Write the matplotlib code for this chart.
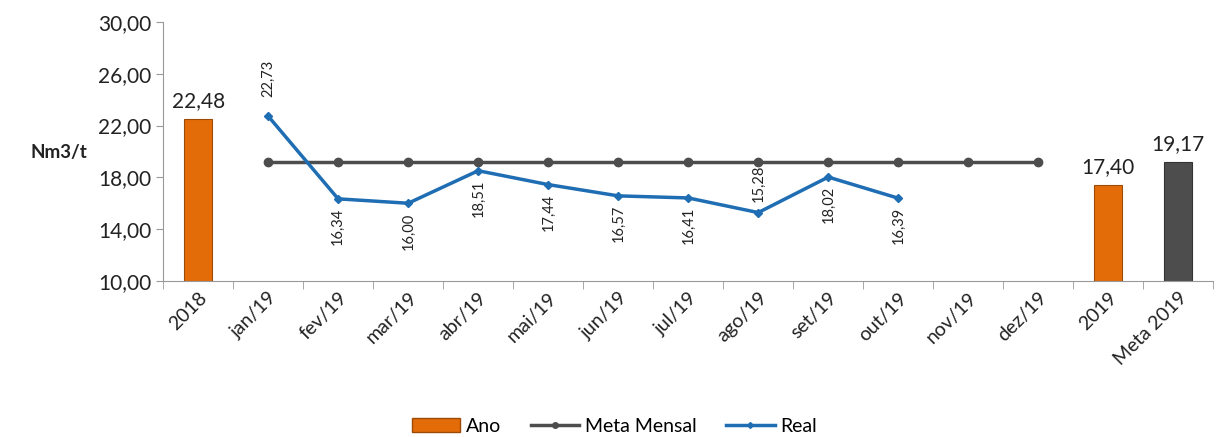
import matplotlib.pyplot as plt
import numpy as np
from matplotlib.patches import Patch
from matplotlib.lines import Line2D

categorias = ['2018', 'jan/19', 'fev/19', 'mar/19', 'abr/19', 'mai/19', 'jun/19',
              'jul/19', 'ago/19', 'set/19', 'out/19', 'nov/19', 'dez/19', '2019', 'Meta 2019']
ano = [22.48, None, None, None, None, None, None, None, None, None, None, None, None, 17.40, None]
meta_2019 = 19.17
meta_mensal = [None] + [19.17] * 12 + [None, None]
real = [None, 22.73, 16.34, 16.00, 18.51, 17.44, 16.57, 16.41, 15.28, 18.02, 16.39, None, None, None, None]

plt.rcParams['font.family'] = ['Lato', 'DejaVu Sans']

fig = plt.figure(figsize=(12.17, 4.37), dpi=100)
ax = fig.add_axes([0.134, 0.357, 0.863, 0.593])

x = np.arange(len(categorias))
laranja = '#e36c09'
cinza = '#4d4d4d'
azul = '#1f6db3'

# barras
for i, v in enumerate(ano):
    if v is not None:
        ax.bar(x[i], v - 10, bottom=10, width=0.4, color=laranja, edgecolor='#9c4a06', linewidth=0.8, zorder=2)
        ax.text(x[i], v + 0.6, f'{v:.2f}'.replace('.', ','), ha='center', va='bottom', fontsize=15, color='#222222')
ax.bar(x[-1], meta_2019 - 10, bottom=10, width=0.4, color=cinza, edgecolor='#333333', linewidth=0.8, zorder=2)
ax.text(x[-1], meta_2019 + 0.6, f'{meta_2019:.2f}'.replace('.', ','), ha='center', va='bottom', fontsize=15, color='#222222')

# linhas
mm = np.array([np.nan if v is None else v for v in meta_mensal])
rr = np.array([np.nan if v is None else v for v in real])
ax.plot(x, mm, color=cinza, linewidth=2.5, marker='o', markersize=6, zorder=3)
ax.plot(x, rr, color=azul, linewidth=2.5, marker='D', markersize=4, zorder=4)

acima = {1: 1.5, 8: 0.8}
for i, v in enumerate(real):
    if v is None:
        continue
    txt = f'{v:.2f}'.replace('.', ',')
    if i in acima:
        ax.text(x[i], v + acima[i], txt, rotation=90, ha='center', va='bottom', fontsize=10.5, color='#222222')
    else:
        ax.text(x[i], v - 0.7, txt, rotation=90, ha='center', va='top', fontsize=10.5, color='#222222')

ax.set_xlim(-0.5, len(categorias) - 0.5)
ax.set_ylim(10, 30)
ax.set_yticks([10, 14, 18, 22, 26, 30])
ax.set_yticklabels(['10,00', '14,00', '18,00', '22,00', '26,00', '30,00'], fontsize=15, color='#222222')
ax.set_xticks(x)
ax.set_xticklabels(categorias, rotation=45, ha='right', rotation_mode='anchor', fontsize=14, color='#222222')
ax.tick_params(axis='x', length=0, pad=6)
ax.set_xticks(np.arange(-0.5, len(categorias), 1), minor=True)
ax.tick_params(axis='x', which='minor', length=6, color='#999999', direction='out')
ax.tick_params(axis='y', length=5, color='#999999')
for s in ['top', 'right']:
    ax.spines[s].set_visible(False)
ax.spines['left'].set_color('#999999')
ax.spines['bottom'].set_color('#999999')

fig.text(0.025, 0.65, 'Nm3/t', fontsize=13.5, fontweight='bold', ha='left', va='center', color='#222222')

handles = [Patch(facecolor=laranja, edgecolor='#9c4a06'),
           Line2D([], [], color=cinza, linewidth=2.5, marker='o', markersize=4),
           Line2D([], [], color=azul, linewidth=2.5, marker='D', markersize=3)]
fig.legend(handles, ['Ano', 'Meta Mensal', 'Real'], loc='center', bbox_to_anchor=(0.505, 0.025),
           ncol=3, frameon=False, fontsize=14, handlelength=2.5, columnspacing=1.5, handletextpad=0.3)

fig.savefig('out.png', dpi=100)
